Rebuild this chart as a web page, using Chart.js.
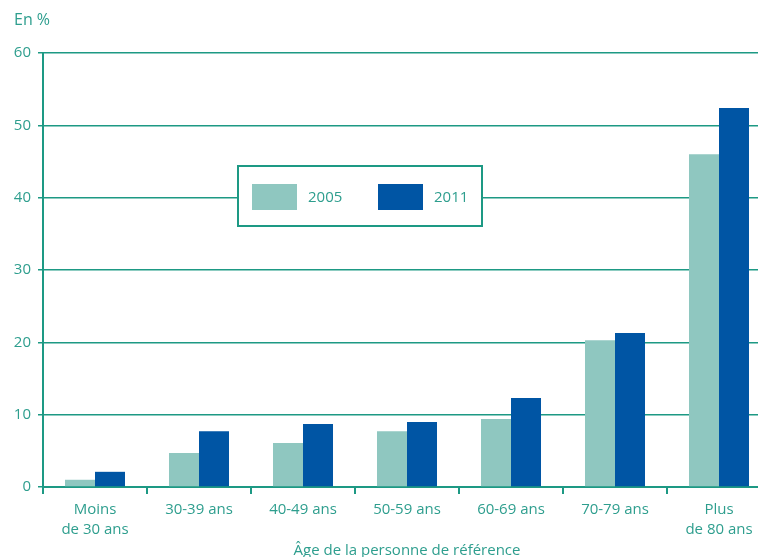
<!DOCTYPE html>
<html lang="fr">
<head>
<meta charset="utf-8">
<title>Âge de la personne de référence</title>
<script src="https://cdn.jsdelivr.net/npm/chart.js@4"></script>
<style>
    html, body { margin: 0; padding: 0; background: #ffffff; overflow: hidden; }
    /* plot runs past the right and bottom edges of the window, as in the original */
    #wrap { width: 771px; height: 560px; position: relative; }
</style>
</head>
<body>
<div id="wrap"><canvas id="ageChart"></canvas></div>
<script>
// Data
const ageLabels = [['Moins', 'de 30 ans'], '30-39 ans', '40-49 ans', '50-59 ans', '60-69 ans', '70-79 ans', ['Plus', 'de 80 ans']];
const values2005 = [1.0, 4.7, 6.1, 7.7, 9.4, 20.3, 46.0];
const values2011 = [2.1, 7.7, 8.7, 9.0, 12.3, 21.3, 52.4];
const seriesNames = ['2005', '2011'];
const yTicks = [0, 10, 20, 30, 40, 50, 60];

const lineColor = '#1d9984';
const textColor = '#2e9e8e';
const fontFamily = "'Open Sans', 'Noto Sans', sans-serif";

// Boxed legend sitting inside the plot, plus the "En %" unit label
const boxedLegend = {
    id: 'boxedLegend',
    afterDraw(chart) {
        const ctx = chart.ctx;
        ctx.save();
        ctx.fillStyle = '#ffffff';
        ctx.fillRect(238, 166, 244, 60);
        ctx.strokeStyle = lineColor;
        ctx.lineWidth = 2;
        ctx.strokeRect(238, 166, 244, 60);

        ctx.font = '15px ' + fontFamily;
        ctx.textBaseline = 'middle';
        ctx.textAlign = 'left';
        chart.data.datasets.forEach((ds, i) => {
            const x = 252 + i * 126;
            ctx.fillStyle = ds.backgroundColor;
            ctx.fillRect(x, 184, 45, 26);
            ctx.fillStyle = textColor;
            ctx.fillText(ds.label, x + 56, 198);
        });

        ctx.font = '16px ' + fontFamily;
        ctx.fillText('En %', 14, 20);
        ctx.restore();
    }
};

new Chart(document.getElementById('ageChart').getContext('2d'), {
    type: 'bar',
    data: {
        labels: ageLabels,
        datasets: [{
            label: seriesNames[0],
            data: values2005,
            backgroundColor: '#8fc7c0'
        }, {
            label: seriesNames[1],
            data: values2011,
            backgroundColor: '#0055a4'
        }]
    },
    options: {
        responsive: true,
        maintainAspectRatio: false,
        animation: false,
        layout: { padding: { top: 53, left: 0, right: 0, bottom: 0 } },
        datasets: {
            bar: { barPercentage: 1, categoryPercentage: 0.577 }
        },
        plugins: {
            legend: { display: false },
            tooltip: { enabled: false }
        },
        scales: {
            x: {
                afterFit: (scale) => { scale.height = 73; },
                grid: {
                    drawOnChartArea: false,
                    drawTicks: true,
                    tickLength: 7,
                    color: lineColor,
                    lineWidth: 2,
                    offset: true
                },
                border: { color: lineColor, width: 2 },
                ticks: {
                    color: textColor,
                    padding: 6,
                    maxRotation: 0,
                    autoSkip: false,
                    font: { family: fontFamily, size: 15, lineHeight: 1.3 }
                },
                title: {
                    display: true,
                    text: 'Âge de la personne de référence',
                    color: textColor,
                    padding: { top: 0, bottom: 0 },
                    font: { family: fontFamily, size: 15 }
                }
            },
            y: {
                min: yTicks[0],
                max: yTicks[yTicks.length - 1],
                afterFit: (scale) => { scale.width = 43; },
                afterBuildTicks: (scale) => { scale.ticks = yTicks.map(v => ({ value: v })); },
                grid: {
                    color: lineColor,
                    lineWidth: 1.5,
                    drawTicks: true,
                    tickLength: 5
                },
                border: { color: lineColor, width: 2 },
                ticks: {
                    color: textColor,
                    padding: 7,
                    font: { family: fontFamily, size: 15 }
                }
            }
        }
    },
    plugins: [boxedLegend]
});
</script>
</body>
</html>
